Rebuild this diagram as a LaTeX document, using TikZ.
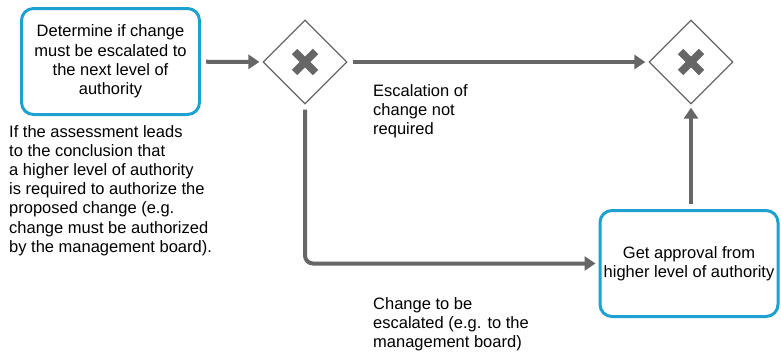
\documentclass[tikz,border=0pt]{standalone}
\usepackage{fontspec}
\setmainfont{Liberation Sans}
\usetikzlibrary{arrows.meta,shapes.geometric}
\definecolor{flowgray}{HTML}{666666}
\definecolor{taskblue}{HTML}{1DA1CF}
\begin{document}
\begin{tikzpicture}[x=1pt,y=-1pt,
  every node/.style={font=\fontsize{16.5}{19.2}\selectfont},
  task/.style={draw=taskblue, line width=3pt, rounded corners=12pt, align=center,
    minimum width=178pt, minimum height=106pt, inner sep=2pt},
  gateway/.style={draw=flowgray, line width=1.3pt, diamond, aspect=1,
    minimum width=84pt, minimum height=84pt, inner sep=0pt},
  xmark/.style={draw=flowgray, line width=7.5pt},
  flow/.style={draw=flowgray, line width=4pt, -{Triangle[length=11pt,width=14pt]},
    shorten <=5pt, shorten >=3pt},
  note/.style={align=left, anchor=north west, inner sep=0pt}]
\useasboundingbox (0,0) rectangle (781,356);

% activities
\node[task] (decide) at (110.5,61.5) {Determine if change\\must be escalated to\\the next level of\\authority};
\node[task] (approve) at (689,263.5) {Get approval from\\higher level of authority};

% exclusive gateways
\node[gateway] (split) at (305,62) {};
\node[gateway] (merge) at (691,62) {};
\foreach \g in {split,merge}{
  \draw[xmark] ([shift={(-10.5,-10.5)}]\g.center) -- ([shift={(10.5,10.5)}]\g.center);
  \draw[xmark] ([shift={(-10.5,10.5)}]\g.center) -- ([shift={(10.5,-10.5)}]\g.center);
}

% sequence flows
\draw[flow] (decide) -- (split);
\draw[flow] (split) -- (merge);
\draw[flow, rounded corners=8pt] (split.south) -- (split |- approve) -- (approve.west);
\draw[flow] (merge |- approve.north) -- (merge.south);

% annotations
\node[note] (nodeesc) at (373,84) {Escalation of\\change not\\required};
\node[note] (esc) at (373,297) {Change to be\\escalated (e.g. to the\\management board)};
\node[note] (why) at (9,125) {If the assessment leads\\to the conclusion that\\a higher level of authority\\is required to authorize the\\proposed change (e.g.\\change must be authorized\\by the management board).};
\end{tikzpicture}
\end{document}
